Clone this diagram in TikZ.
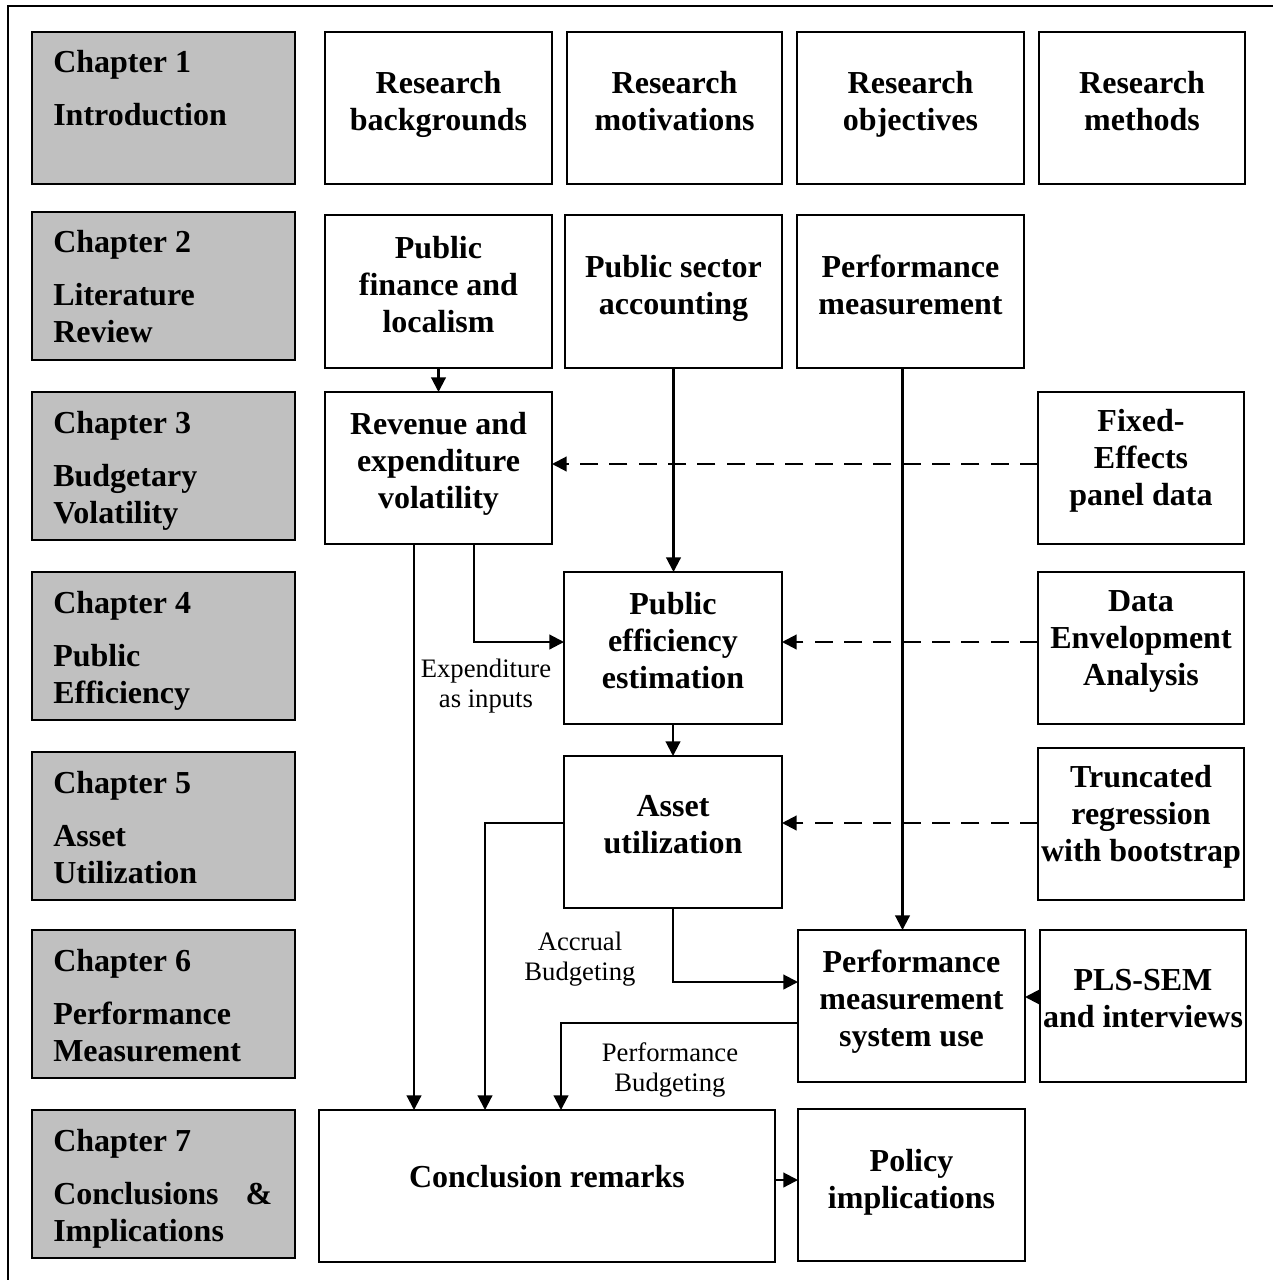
\documentclass[tikz,border=0pt]{standalone}
\usepackage{fontspec}
\setmainfont{Liberation Serif}
\usetikzlibrary{arrows.meta}
\definecolor{chapgray}{RGB}{192,192,192}
\newcommand{\Bx}[6]{\node[#1, minimum width={(#4-#2)*0.75pt}, minimum height={(#5-#3)*0.75pt}] (#6) at ({(#2+#4)/2},{(#3+#5)/2}) {};}
\newcommand{\Mt}[4]{\node[mtxt] (#1) at (#2,{#3-24}) {\rule{0pt}{18pt}#4};}
\newcommand{\Ct}[3]{\node[ctxt] (#1) at (53,{#2-24}) {\rule{0pt}{18pt}#3};}
\newcommand{\St}[4]{\node[stxt] (#1) at (#2,{#3-20}) {\rule{0pt}{15pt}#4};}
\begin{document}
\begin{tikzpicture}[x=0.75pt, y=-0.75pt,
  chap/.style={draw=black, fill=chapgray, line width=1.5pt, inner sep=0pt, outer sep=0pt},
  mbox/.style={draw=black, fill=white, line width=1.5pt, inner sep=0pt, outer sep=0pt},
  mtxt/.style={anchor=north, align=center, inner sep=0pt, font=\fontsize{24pt}{27.75pt}\selectfont\bfseries},
  ctxt/.style={anchor=north west, align=left, inner sep=0pt, font=\fontsize{24pt}{27.75pt}\selectfont\bfseries},
  stxt/.style={anchor=north, align=center, inner sep=0pt, font=\fontsize{20pt}{22.5pt}\selectfont},
  arr/.style={line width=1.6pt, -{Triangle[length=11pt,width=11pt]}},
  darr/.style={arr, dash pattern=on 13.5pt off 8.5pt},
  frame/.style={line width=2.2pt}
]
\useasboundingbox (0,0) rectangle (1273,1280);
\draw[frame] (8,1280) -- (8,6) -- (1273,6);

% chapter boxes
\Bx{chap}{32}{32}{295}{184}{ch1}
\Bx{chap}{32}{212}{295}{360}{ch2}
\Bx{chap}{32}{392}{295}{540}{ch3}
\Bx{chap}{32}{572}{295}{720}{ch4}
\Bx{chap}{32}{752}{295}{900}{ch5}
\Bx{chap}{32}{930}{295}{1078}{ch6}
\Bx{chap}{32}{1110}{295}{1258}{ch7}

\Ct{c1t}{72}{Chapter 1\\[12pt]Introduction}
\Ct{c2t}{252}{Chapter 2\\[12pt]Literature\\Review}
\Ct{c3t}{433}{Chapter 3\\[12pt]Budgetary\\Volatility}
\Ct{c4t}{613}{Chapter 4\\[12pt]Public\\Efficiency}
\Ct{c5t}{793}{Chapter 5\\[12pt]Asset\\Utilization}
\Ct{c6t}{971}{Chapter 6\\[12pt]Performance\\Measurement}
\Ct{c7t}{1151}{Chapter 7\\[12pt]\makebox[164.25pt][l]{Conclusions\hfill\&}\\Implications}

% main boxes
\Bx{mbox}{325}{32}{552}{184}{rb}
\Bx{mbox}{567}{32}{782}{184}{rmo}
\Bx{mbox}{797}{32}{1024}{184}{rob}
\Bx{mbox}{1039}{32}{1245}{184}{rme}
\Bx{mbox}{325}{215}{552}{368}{pf}
\Bx{mbox}{565}{215}{782}{368}{psa}
\Bx{mbox}{797}{215}{1024}{368}{pm}
\Bx{mbox}{325}{392}{552}{544}{rev}
\Bx{mbox}{1038}{392}{1244}{544}{fe}
\Bx{mbox}{564}{572}{782}{724}{pe}
\Bx{mbox}{1038}{572}{1244}{724}{dea}
\Bx{mbox}{564}{756}{782}{908}{au}
\Bx{mbox}{1038}{748}{1244}{900}{tr}
\Bx{mbox}{798}{930}{1025}{1082}{psu}
\Bx{mbox}{1040}{930}{1246}{1082}{pls}
\Bx{mbox}{319}{1110}{775}{1262}{conc}
\Bx{mbox}{798}{1109}{1025}{1261}{pol}

% box texts
\Mt{rbt}{438.5}{93}{Research\\backgrounds}
\Mt{rmot}{674.5}{93}{Research\\motivations}
\Mt{robt}{910.5}{93}{Research\\objectives}
\Mt{rmet}{1142}{93}{Research\\methods}
\Mt{pft}{438.5}{258}{Public\\finance and\\localism}
\Mt{psat}{673.5}{277}{Public sector\\accounting}
\Mt{pmt}{910.5}{277}{Performance\\measurement}
\Mt{revt}{438.5}{434.5}{Revenue and\\expenditure\\volatility}
\Mt{fet}{1141}{431.5}{Fixed-\\Effects\\panel data}
\Mt{pet}{673}{614}{Public\\efficiency\\estimation}
\Mt{deat}{1141}{611}{Data\\Envelopment\\Analysis}
\Mt{aut}{673}{816}{Asset\\utilization}
\Mt{trt}{1141}{787}{Truncated\\regression\\with bootstrap}
\Mt{psut}{911.5}{972.5}{Performance\\measurement\\system use}
\Mt{plst}{1143}{990}{PLS-SEM\\and interviews}
\Mt{conct}{547}{1187}{Conclusion remarks}
\Mt{polt}{911.5}{1171}{Policy\\implications}

% small labels
\St{lexp}{486}{677.5}{Expenditure\\as inputs}
\St{lacc}{580}{950}{Accrual\\Budgeting}
\St{lperf}{670}{1061}{Performance\\Budgeting}

% connectors
\draw[arr] (pf.south) -- (rev.north);
\draw[arr] (psa.south) -- (psa.south |- pe.north);
\draw[arr] ([xshift=26.625pt]rev.south) |- ([yshift=4.5pt]pe.west);
\draw[arr] ([xshift=-18.375pt]rev.south) -- ([xshift=71.25pt]conc.north west);
\draw[darr] ([yshift=3pt]fe.west) -- ([yshift=3pt]rev.east);
\draw[darr] ([yshift=4.5pt]dea.west) -- ([yshift=4.5pt]pe.east);
\draw[darr] ([yshift=0.75pt]tr.west) -- ([yshift=6.75pt]au.east);
\draw[arr] (pe.south) -- (au.north);
\draw[arr] ([yshift=6.75pt]au.west) -| ([xshift=124.5pt]conc.north west);
\draw[arr] (au.south) |- ([yshift=18pt]psu.west);
\draw[arr] ([xshift=-6pt]pm.south) -- ([xshift=-6.75pt]psu.north);
\draw[arr] ([yshift=6.75pt]pls.west) -- ([yshift=6.75pt]psu.east);
\draw[arr] ([yshift=-12.75pt]psu.west) -| ([xshift=181.5pt]conc.north west);
\draw[arr] ([yshift=4.5pt]conc.east) -- ([yshift=3.75pt]pol.west);
\end{tikzpicture}
\end{document}
